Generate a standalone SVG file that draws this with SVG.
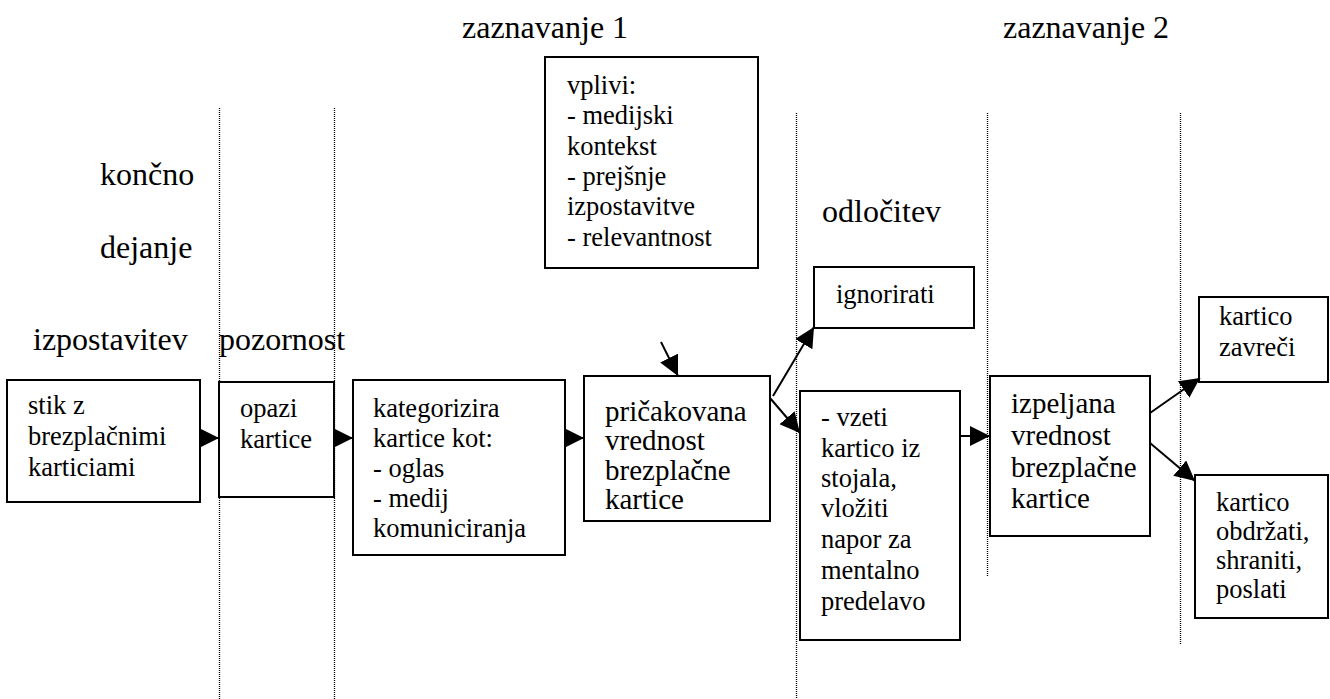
<svg xmlns="http://www.w3.org/2000/svg" width="1330" height="699" viewBox="0 0 1330 699" font-family="'Liberation Serif', Tinos, 'Times New Roman', 'DejaVu Serif', serif">
<style>
text{font-family:'Liberation Serif', Tinos, 'Times New Roman', 'DejaVu Serif', serif;fill:#000}
.h{font-size:32px}
.t{font-size:26.5px}
.tl{font-size:29px}
.box{fill:#fff;stroke:#000;stroke-width:2}
.dot{stroke:#000;stroke-width:1.3;stroke-dasharray:1 1;fill:none}
.con{stroke:#000;stroke-width:2;fill:none;marker-end:url(#ah)}
</style>
<defs>
<marker id="ah" markerUnits="userSpaceOnUse" markerWidth="20" markerHeight="20" refX="20" refY="10" orient="auto" viewBox="0 0 20 20">
<path d="M0,0 L20,10 L0,20 z" fill="#000"/>
</marker>
</defs>
<rect width="1330" height="699" fill="#fff"/>
<g id="guides">
<line class="dot" x1="219.5" y1="108" x2="219.5" y2="699"/>
<line class="dot" x1="334.5" y1="108" x2="334.5" y2="699"/>
<line class="dot" x1="796.5" y1="113" x2="796.5" y2="699"/>
<line class="dot" x1="987.5" y1="113" x2="987.5" y2="576"/>
<line class="dot" x1="1180.5" y1="113" x2="1180.5" y2="645"/>
</g>
<g id="headings">
<text class="h" x="462" y="38">zaznavanje 1</text>
<text class="h" x="1003" y="38">zaznavanje 2</text>
<text class="h" x="100" y="185">končno</text>
<text class="h" x="100" y="258">dejanje</text>
<text class="h" x="822" y="222">odločitev</text>
<text class="h" x="33" y="350">izpostavitev</text>
<text class="h" x="219" y="350">pozornost</text>
</g>
<g id="n-stik">
<rect class="box" x="7" y="380" width="193" height="122"/>
<text class="t"><tspan x="28" y="414">stik z</tspan><tspan x="28" y="445">brezplačnimi</tspan><tspan x="28" y="476">karticiami</tspan></text>
</g>
<g id="n-opazi">
<rect class="box" x="219" y="382" width="115" height="115"/>
<text class="t"><tspan x="240" y="417">opazi</tspan><tspan x="240" y="448">kartice</tspan></text>
</g>
<g id="n-kategorizira">
<rect class="box" x="353" y="380" width="212" height="175"/>
<text class="t"><tspan x="373" y="417">kategorizira</tspan><tspan x="373" y="447">kartice kot:</tspan><tspan x="373" y="477">- oglas</tspan><tspan x="373" y="507">- medij</tspan><tspan x="373" y="537">komuniciranja</tspan></text>
</g>
<g id="n-pricakovana">
<rect class="box" x="584" y="376" width="186" height="145"/>
<text class="tl"><tspan x="605" y="421">pričakovana</tspan><tspan x="605" y="450">vrednost</tspan><tspan x="605" y="480">brezplačne</tspan><tspan x="605" y="509">kartice</tspan></text>
</g>
<g id="n-vplivi">
<rect class="box" x="545" y="57" width="213" height="211"/>
<text class="t"><tspan x="567" y="94">vplivi:</tspan><tspan x="567" y="124">- medijski</tspan><tspan x="567" y="155">kontekst</tspan><tspan x="567" y="185">- prejšnje</tspan><tspan x="567" y="215">izpostavitve</tspan><tspan x="567" y="246">- relevantnost</tspan></text>
</g>
<g id="n-ignorirati">
<rect class="box" x="814" y="267" width="160" height="61"/>
<text class="t" x="836" y="303">ignorirati</text>
</g>
<g id="n-vzeti">
<rect class="box" x="800" y="391" width="160" height="249"/>
<text class="t"><tspan x="821" y="426">- vzeti</tspan><tspan x="821" y="457">kartico iz</tspan><tspan x="821" y="487">stojala,</tspan><tspan x="821" y="517">vložiti</tspan><tspan x="821" y="548">napor za</tspan><tspan x="821" y="579">mentalno</tspan><tspan x="821" y="610">predelavo</tspan></text>
</g>
<g id="n-izpeljana">
<rect class="box" x="990" y="376" width="160" height="160"/>
<text class="tl"><tspan x="1011" y="413">izpeljana</tspan><tspan x="1011" y="445">vrednost</tspan><tspan x="1011" y="477">brezplačne</tspan><tspan x="1011" y="508">kartice</tspan></text>
</g>
<g id="n-zavreci">
<rect class="box" x="1199" y="297" width="129" height="85"/>
<text class="t"><tspan x="1219" y="325">kartico</tspan><tspan x="1219" y="356">zavreči</tspan></text>
</g>
<g id="n-obdrzati">
<rect class="box" x="1195" y="475" width="133" height="143"/>
<text class="t"><tspan x="1216" y="511">kartico</tspan><tspan x="1216" y="540">obdržati,</tspan><tspan x="1216" y="569">shraniti,</tspan><tspan x="1216" y="598">poslati</tspan></text>
</g>
<g id="connectors">
<line class="con" x1="199" y1="438" x2="219" y2="438"/>
<line class="con" x1="334" y1="438" x2="353" y2="438"/>
<line class="con" x1="565" y1="438" x2="584" y2="438"/>
<line class="con" x1="661" y1="342" x2="678" y2="376"/>
<line class="con" x1="773" y1="396" x2="814" y2="327"/>
<line class="con" x1="770" y1="398" x2="800" y2="433"/>
<line class="con" x1="960" y1="436" x2="990" y2="436"/>
<line class="con" x1="1150" y1="413" x2="1200" y2="378"/>
<line class="con" x1="1150" y1="443" x2="1195" y2="481"/>
</g>
</svg>
